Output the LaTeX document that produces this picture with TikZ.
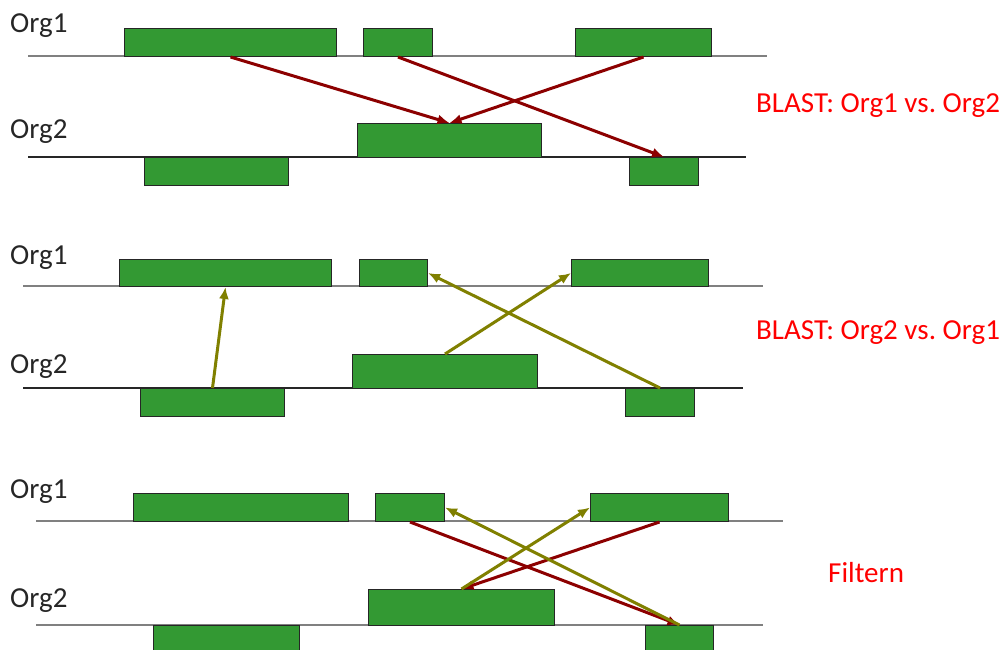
\documentclass[tikz,border=0pt]{standalone}
\usepackage{fontspec}
\setmainfont{Carlito}
\frenchspacing
\usetikzlibrary{arrows.meta}
\definecolor{boxgreen}{RGB}{51,153,51}
\definecolor{hitred}{RGB}{140,0,0}
\definecolor{hitolive}{RGB}{128,128,0}
\definecolor{labred}{RGB}{255,0,0}
\begin{document}
\begin{tikzpicture}[x=1pt,y=-1pt,
  gbox/.style={draw=black!85,line width=1pt,fill=boxgreen,inner sep=0pt,anchor=north west},
  orglabel/.style={anchor=base west,inner sep=0pt,font=\fontsize{29}{33}\selectfont,text=black!85},
  redlabel/.style={anchor=base west,inner sep=0pt,font=\fontsize{29}{33}\selectfont,text=labred},
  axis1/.style={draw=black!50,line width=1.6pt},
  axis2/.style={draw=black!85,line width=1.3pt},
  redarr/.style={draw=hitred,line width=3pt,-{Latex[length=12pt,width=10pt]}},
  olivearr/.style={draw=hitolive,line width=3pt,-{Latex[length=12pt,width=10pt]}}]
\useasboundingbox (0,0) rectangle (1004,650);
% ---------- Panel 1 ----------
\node[orglabel] (l11) at (10,33) {Org1};
\node[orglabel] (l12) at (10,139) {Org2};
\draw[axis1] (28,56) -- (767,56);
\draw[axis2] (28,157) -- (746,157);
\node[gbox,minimum width=212pt,minimum height=28pt] (a1) at (124,28) {};
\node[gbox,minimum width=69pt,minimum height=28pt] (a2) at (363,28) {};
\node[gbox,minimum width=136pt,minimum height=28pt] (a3) at (575,28) {};
\node[gbox,minimum width=144pt,minimum height=28pt] (b1) at (144,157) {};
\node[gbox,minimum width=184pt,minimum height=34pt] (b2) at (357,123) {};
\node[gbox,minimum width=69pt,minimum height=28pt] (b3) at (629,157) {};
\draw[redarr] (a1.south) -- (b2.north);
\draw[redarr] (a2.south) -- (b3.north);
\draw[redarr] (a3.south) -- (b2.north);
\node[redlabel] (t1) at (756,113) {BLAST: Org1 vs. Org2};
% ---------- Panel 2 ----------
\node[orglabel] (l21) at (10,264) {Org1};
\node[orglabel] (l22) at (10,373) {Org2};
\draw[axis1] (23,286) -- (763,286);
\draw[axis2] (23,388) -- (743,388);
\node[gbox,minimum width=212pt,minimum height=27pt] (c1) at (119,259) {};
\node[gbox,minimum width=68pt,minimum height=27pt] (c2) at (359,259) {};
\node[gbox,minimum width=137pt,minimum height=27pt] (c3) at (571,259) {};
\node[gbox,minimum width=144pt,minimum height=28pt] (d1) at (140,388) {};
\node[gbox,minimum width=185pt,minimum height=34pt] (d2) at (352,354) {};
\node[gbox,minimum width=69pt,minimum height=28pt] (d3) at (625,388) {};
\draw[olivearr] (d1.north) -- (c1.south);
\draw[olivearr] (d2.north) -- (c3.west);
\draw[olivearr] (d3.north) -- (c2.east);
\node[redlabel] (t2) at (756,339) {BLAST: Org2 vs. Org1};
% ---------- Panel 3 ----------
\node[orglabel] (l31) at (10,498) {Org1};
\node[orglabel] (l32) at (10,607) {Org2};
\draw[axis1] (36,521) -- (783,521);
\draw[axis1] (36,625) -- (763,625);
\node[gbox,minimum width=215pt,minimum height=28pt] (e1) at (133,493) {};
\node[gbox,minimum width=69pt,minimum height=28pt] (e2) at (375,493) {};
\node[gbox,minimum width=138pt,minimum height=28pt] (e3) at (590,493) {};
\node[gbox,minimum width=146pt,minimum height=28pt] (f1) at (153,625) {};
\node[gbox,minimum width=186pt,minimum height=36pt] (f2) at (368,589) {};
\node[gbox,minimum width=68pt,minimum height=28pt] (f3) at (645,625) {};
\draw[redarr] (e2.south) -- (f3.north);
\draw[redarr] (e3.south) -- (f2.north);
\draw[olivearr] (f2.north) -- (e3.west);
\draw[olivearr] (f3.north) -- (e2.east);
\node[redlabel] (t3) at (828,582) {Filtern};
\end{tikzpicture}
\end{document}
